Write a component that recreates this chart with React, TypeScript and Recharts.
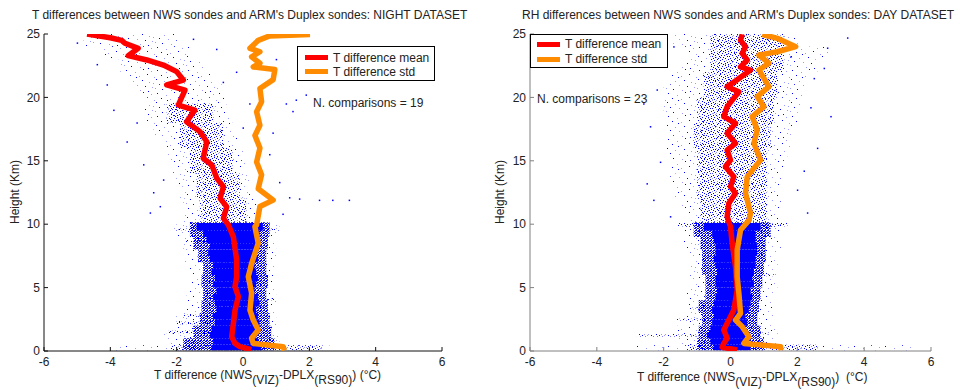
import React from 'react';
import { ComposedChart, XAxis, YAxis, Scatter, ReferenceArea } from 'recharts';

// ---------- data ----------
const X_TICKS = [-6, -4, -2, 0, 2, 4, 6];
const Y_TICKS = [0, 5, 10, 15, 20, 25];

// [x (°C), height (km)]
const LEFT_MEAN = [
  [-4.7, 25], [-4.0, 24.7], [-3.66, 24.5], [-3.56, 24.27], [-3.16, 23.87], [-3.46, 23.29], [-2.9, 22.95],
  [-2.4, 22.55], [-2.0, 22.03], [-1.8, 21.37], [-2.3, 20.98], [-1.75, 20.58], [-1.95, 19.4], [-1.45, 19.0],
  [-1.7, 18.08], [-1.3, 17.3], [-1.09, 16.5], [-1.2, 15.2], [-0.94, 14.67], [-0.79, 13.62], [-0.59, 12.96],
  [-0.69, 12.04], [-0.49, 11.38], [-0.59, 10.46], [-0.44, 9.94], [-0.29, 9.0], [-0.19, 7.18], [-0.19, 5.86],
  [-0.24, 5.07], [-0.14, 4.28], [-0.24, 3.23], [-0.29, 2.18], [-0.34, 1.13], [-0.24, 0.6], [-0.09, 0.34], [0.25, 0.1],
];
const LEFT_STD = [
  [2.02, 24.97], [0.8, 24.85], [0.46, 24.5], [0.21, 23.87], [0.51, 23.6], [0.26, 23.2], [0.51, 22.7], [0.31, 22.4],
  [0.96, 22.2], [0.91, 21.4], [0.51, 20.7], [0.56, 19.66], [0.41, 18.87], [0.51, 17.8], [0.36, 17.0], [0.51, 16.0],
  [0.41, 14.9], [0.56, 13.9], [0.46, 12.8], [0.91, 11.9], [0.51, 11.4], [0.41, 9.94], [0.36, 9.8], [0.46, 8.5],
  [0.26, 6.9], [0.16, 5.86], [0.26, 4.55], [0.21, 3.23], [0.31, 2.44], [0.46, 1.66], [0.26, 1.0], [0.31, 0.6],
  [1.21, 0.34], [1.25, 0.05],
];
const RIGHT_MEAN = [
  [0.35, 24.97], [0.3, 24.5], [0.45, 24.0], [0.35, 23.47], [0.5, 22.95], [0.3, 22.4], [0.6, 22.16], [0.2, 21.4],
  [-0.1, 20.84], [0.25, 20.45], [-0.1, 19.27], [-0.2, 18.48], [0.15, 17.96], [-0.1, 17.17], [0.15, 16.38],
  [-0.1, 15.85], [0.0, 15.06], [-0.15, 14.53], [0.1, 13.75], [0.0, 12.96], [0.15, 12.44], [-0.05, 11.65],
  [-0.1, 10.6], [0.0, 9.8], [0.05, 8.5], [0.15, 6.65], [0.2, 4.8], [0.1, 3.23], [-0.05, 2.44], [-0.2, 1.66],
  [-0.1, 1.0], [-0.2, 0.6], [-0.25, 0.3], [0.2, 0.08],
];
const RIGHT_STD = [
  [0.95, 24.97], [1.4, 24.66], [1.95, 24.0], [1.4, 23.6], [0.85, 23.34], [1.15, 22.7], [0.85, 22.16], [1.15, 20.84],
  [0.8, 20.06], [1.0, 19.27], [0.65, 18.48], [0.8, 17.43], [0.7, 16.38], [0.9, 15.06], [0.5, 13.75], [0.45, 12.44],
  [0.6, 10.86], [0.55, 10.3], [0.3, 9.54], [0.2, 7.97], [0.2, 5.86], [0.25, 4.55], [0.3, 2.97], [0.15, 2.44],
  [0.35, 1.92], [0.55, 1.13], [0.4, 0.6], [1.5, 0.34], [1.5, 0.06],
];

// scatter cloud envelopes: [hLow, hHigh, xLow, xHigh]
const LEFT_CORE = [
  [0.05, 0.5, -0.95, 0.55], [0.5, 1.0, -0.9, 0.45], [1.0, 1.5, -1.0, 0.4], [1.5, 2.0, -0.95, 0.45],
  [2.0, 2.5, -0.85, 0.5], [2.5, 3.0, -0.9, 0.45], [3.0, 3.5, -0.8, 0.4], [3.5, 4.0, -0.85, 0.5],
  [4.0, 4.5, -0.9, 0.45], [4.5, 5.0, -0.8, 0.35], [5.0, 5.5, -0.9, 0.4], [5.5, 6.0, -0.85, 0.45],
  [6.0, 6.5, -0.95, 0.4], [6.5, 7.0, -0.9, 0.35], [7.0, 7.5, -1.0, 0.45], [7.5, 8.0, -1.05, 0.4],
  [8.0, 8.5, -1.0, 0.5], [8.5, 9.0, -1.1, 0.45], [9.0, 9.5, -1.2, 0.5], [9.5, 10.1, -1.4, 0.6],
];
const LEFT_DENSE = [
  [0.05, 1, -1.8, 0.95], [1, 2, -1.5, 0.85], [2, 3, -1.3, 0.8], [3, 4, -1.25, 0.75], [4, 5, -1.2, 0.7],
  [5, 6, -1.25, 0.75], [6, 7, -1.2, 0.7], [7, 8, -1.35, 0.7], [8, 9, -1.5, 0.75], [9, 10.15, -1.6, 0.8],
];
const LEFT_MEDIUM = [
  [0.05, 0.45, -2.2, 2.4], [1.4, 1.6, -2.3, -0.8], [2.1, 2.35, -2.0, -0.8], [2.7, 2.85, -1.8, -0.8],
  [4.0, 4.15, 0.6, 0.95], [5.9, 6.05, 0.5, 0.8], [8.6, 8.75, -1.8, -1.0], [9.5, 9.65, -2.1, -1.2],
  [9.5, 9.65, 0.6, 1.1], [10.2, 12, -1.3, 0.1], [12, 14, -1.4, -0.1], [14, 16, -1.6, -0.3],
  [16, 18, -1.9, -0.6], [18, 19.5, -2.3, -0.9],
];
const LEFT_SPARSE = [
  [0.05, 0.45, -3.9, 2.6], [0.45, 1.5, -2.4, 1.1], [1.5, 3, -2.0, 1.0], [3, 5, -1.7, 1.0], [5, 7, -1.6, 0.95],
  [7, 9, -1.8, 1.0], [9, 10, -2.0, 1.1], [10, 11, -1.8, 0.5], [11, 12, -1.8, 0.4],
  [12, 13, -1.9, 0.3], [13, 14, -2.0, 0.2], [14, 15, -2.1, 0.1], [15, 16, -2.3, 0.0], [16, 17, -2.4, -0.1],
  [17, 18, -2.7, -0.3], [18, 19, -2.9, -0.4], [19, 20, -3.0, -0.5], [20, 21, -3.2, -0.6], [21, 22, -3.4, -0.9],
  [22, 23, -3.7, -1.2], [23, 24, -4.2, -1.6], [24, 25, -4.8, -2.0],
];
const LEFT_OUTLIERS = [
  [1.4, 12.1], [1.7, 12.0], [2.3, 11.9], [3.2, 11.9], [1.3, 19.5], [1.6, 19.8], [1.9, 20.2], [1.5, 18.9],
  [-3.5, 16.5], [-3.0, 14.7], [-2.7, 12.5], [-2.4, 13.5], [-4.1, 21.0], [-3.9, 19.0], [-5.0, 24.3],
  [-4.4, 22.6], [0.8, 15.5], [0.9, 17.2], [1.1, 13.3], [-0.2, 22.0], [-0.6, 21.2], [0.2, 19.5], [2.7, 11.9],
  [1.0, 23.0], [-0.8, 23.8], [-1.5, 24.6], [0.0, 17.6], [-3.2, 18.0], [-2.8, 10.9], [-2.5, 11.4], [1.2, 10.8],
];

const RIGHT_CORE = [
  [0.05, 0.5, -0.5, 0.6], [0.5, 1.0, -0.6, 0.5], [1.0, 1.5, -0.7, 0.45], [1.5, 2.0, -0.6, 0.4],
  [2.0, 2.5, -0.55, 0.5], [2.5, 3.0, -0.5, 0.45], [3.0, 3.5, -0.55, 0.55], [3.5, 4.0, -0.5, 0.6],
  [4.0, 4.5, -0.45, 0.65], [4.5, 5.0, -0.4, 0.6], [5.0, 5.5, -0.45, 0.7], [5.5, 6.0, -0.45, 0.65],
  [6.0, 6.5, -0.4, 0.7], [6.5, 7.0, -0.45, 0.75], [7.0, 7.5, -0.5, 0.75], [7.5, 8.0, -0.45, 0.8],
  [8.0, 8.5, -0.45, 0.8], [8.5, 9.0, -0.5, 0.75], [9.0, 9.5, -0.55, 0.75], [9.5, 10.1, -0.8, 0.9],
];
const RIGHT_DENSE = [
  [0.05, 1, -1.0, 1.0], [1, 2, -0.95, 0.9], [2, 3, -0.85, 0.8], [3, 4, -0.95, 0.85], [4, 5, -0.75, 0.9],
  [5, 6, -0.75, 0.95], [6, 7, -0.85, 1.0], [7, 8, -0.85, 1.05], [8, 9, -0.9, 1.05], [9, 10.15, -1.1, 1.2],
];
const RIGHT_MEDIUM = [
  [0.05, 0.5, -1.3, 2.6], [1.15, 1.35, -2.8, -0.7], [1.3, 1.45, 0.8, 1.2], [2.4, 2.55, -1.6, -0.6],
  [3.3, 3.45, -1.3, -0.6], [5.9, 6.05, 0.9, 1.3], [8.3, 8.45, -1.0, -0.6], [9.8, 10.1, -1.6, 1.7],
  [10.2, 12, -0.9, 1.1], [12, 14, -1.0, 1.1], [14, 16, -1.0, 1.1], [16, 18, -1.1, 1.2], [18, 20, -1.0, 1.3],
  [20, 22, -0.8, 1.4], [22, 25, -0.6, 1.6],
];
const RIGHT_SPARSE = [
  [0.05, 0.45, -2.8, 5.4], [0.45, 2, -1.6, 1.4], [2, 5, -1.3, 1.3], [5, 8, -1.2, 1.4], [8, 10, -1.4, 1.5],
  [10, 11, -1.3, 1.5], [11, 12, -1.5, 1.5], [12, 13, -1.7, 1.5],
  [13, 14, -1.8, 1.5], [14, 15, -1.8, 1.6], [15, 16, -1.9, 1.7], [16, 17, -1.9, 1.8], [17, 18, -1.9, 1.9],
  [18, 19, -2.0, 2.0], [19, 20, -2.0, 2.1], [20, 21, -2.0, 2.2], [21, 22, -1.8, 2.3], [22, 23, -1.5, 2.6],
  [23, 24, -1.3, 2.9], [24, 25, -1.7, 2.0],
];
const RIGHT_OUTLIERS = [
  [2.9, 23.9], [2.8, 22.3], [2.5, 21.5], [3.5, 24.7], [2.4, 19.2], [2.6, 16.0], [2.2, 14.2], [2.0, 12.7],
  [-2.1, 14.9], [-2.4, 17.7], [-2.2, 20.6], [-2.6, 19.5], [-1.7, 24.0], [-1.9, 22.7], [3.0, 18.5],
  [-2.3, 11.9], [2.3, 10.9], [-1.8, 10.6], [1.8, 23.2], [-2.5, 13.2], [1.1, 24.6],
];

const toPts = (a: number[][]) => a.map(([x, h]) => ({ x, h }));

// ---------- styles ----------
const FONT = '"Liberation Sans", Arial, Helvetica, sans-serif';
const BLUE = '#0000ff';
const LIGHTBLUE = '#9a9aff';
const RED = '#ff0000';
const ORANGE = '#ff8c00';

const SPARSE_DOTS = [
  [2, 1], [11, 3], [19, 0], [27, 2], [6, 6], [15, 7], [23, 5], [30, 8], [1, 10], [9, 12], [18, 11],
  [25, 13], [4, 15], [13, 16], [21, 17], [28, 18], [7, 20], [16, 21], [24, 22], [0, 19], [12, 8], [29, 14],
];
const MED_ROWS = [
  [1, 7, 13], [4, 10, 16], [0, 8, 12], [3, 6, 14], [9, 11, 1], [5, 15, 2], [0, 7, 12],
  [4, 10, 16], [2, 8, 13], [6, 11, 15], [1, 9, 14], [3, 7, 12], [5, 10, 16],
];
const DENSE_DOTS = [[0, 0], [2, 0], [3, 0], [5, 0], [1, 1], [2, 1], [4, 1], [0, 2], [3, 2], [5, 2], [1, 3], [2, 3], [4, 3], [5, 3], [0, 4], [3, 4]];

function Patterns({ p }: { p: string }) {
  return (
    <defs>
      <pattern id={`${p}-sparse`} width={31} height={23} patternUnits="userSpaceOnUse">
        {SPARSE_DOTS.map(([x, y], i) => (
          <rect key={i} x={x} y={y} width={1} height={1} fill={i % 2 === 0 ? BLUE : LIGHTBLUE} />
        ))}
      </pattern>
      <pattern id={`${p}-medium`} width={17} height={13} patternUnits="userSpaceOnUse">
        {MED_ROWS.map((row, y) =>
          row.map((x, j) => (
            <rect key={`${y}-${j}`} x={x} y={y} width={1} height={1} fill={(x + y) % 4 === 0 ? LIGHTBLUE : BLUE} />
          ))
        )}
      </pattern>
      <pattern id={`${p}-dense`} width={6} height={5} patternUnits="userSpaceOnUse">
        {DENSE_DOTS.map(([x, y], i) => (
          <rect key={i} x={x} y={y} width={1} height={1} fill={BLUE} />
        ))}
      </pattern>
    </defs>
  );
}

const bandAreas = (bands: number[][], fill: string, key: string) =>
  bands.map((b, i) => (
    <ReferenceArea
      key={`${key}-${i}`}
      x1={b[2]}
      x2={b[3]}
      y1={b[0]}
      y2={b[1]}
      fill={fill}
      fillOpacity={1}
      stroke="none"
      strokeWidth={0}
    />
  ));

const emptyShape = () => <g />;
const dotShape = (props: any) => (
  <rect x={props.cx - 0.5} y={props.cy - 0.5} width={1.5} height={1.5} fill={BLUE} />
);

type PanelProps = {
  p: string;
  mean: number[][];
  std: number[][];
  core: number[][];
  dense: number[][];
  medium: number[][];
  sparse: number[][];
  outliers: number[][];
  axisColor: string;
  leftW: number;
  rightM: number;
};

function Panel(props: PanelProps) {
  const { p, mean, std, core, dense, medium, sparse, outliers, axisColor, leftW, rightM } = props;
  const tickStyle = { fill: '#222', fontSize: 12, fontFamily: FONT };
  const line = { stroke: axisColor, strokeWidth: 1 };
  return (
    <ComposedChart width={480} height={390} margin={{ top: 34, right: rightM, bottom: 0, left: 0 }}>
      <Patterns p={p} />
      <XAxis
        xAxisId={0}
        type="number"
        dataKey="x"
        domain={[-6, 6]}
        ticks={X_TICKS}
        interval={0}
        allowDataOverflow
        height={39}
        tickSize={-4}
        tickMargin={10}
        tick={tickStyle}
        axisLine={line}
        tickLine={line}
      />
      <XAxis
        xAxisId="top"
        orientation="top"
        type="number"
        domain={[-6, 6]}
        ticks={X_TICKS}
        interval={0}
        allowDataOverflow
        height={0}
        tickSize={-4}
        tick={false}
        axisLine={line}
        tickLine={line}
      />
      <YAxis
        yAxisId={0}
        type="number"
        dataKey="h"
        domain={[0, 25]}
        ticks={Y_TICKS}
        interval={0}
        allowDataOverflow
        width={leftW}
        tickSize={-4}
        tickMargin={8}
        tick={tickStyle}
        axisLine={line}
        tickLine={line}
      />
      <YAxis
        yAxisId="right"
        orientation="right"
        type="number"
        domain={[0, 25]}
        ticks={Y_TICKS}
        interval={0}
        allowDataOverflow
        width={0}
        tickSize={-4}
        tick={false}
        axisLine={line}
        tickLine={line}
      />
      {bandAreas(sparse, `url(#${p}-sparse)`, 'sp')}
      {bandAreas(medium, `url(#${p}-medium)`, 'md')}
      {bandAreas(dense, `url(#${p}-dense)`, 'dn')}
      {bandAreas(core, BLUE, 'co')}
      <Scatter data={toPts(outliers)} shape={dotShape} isAnimationActive={false} />
      <Scatter
        data={toPts(mean)}
        line={{ stroke: RED, strokeWidth: 5.5, strokeLinejoin: 'round' }}
        shape={emptyShape}
        isAnimationActive={false}
      />
      <Scatter
        data={toPts(std)}
        line={{ stroke: ORANGE, strokeWidth: 5.5, strokeLinejoin: 'round' }}
        shape={emptyShape}
        isAnimationActive={false}
      />
    </ComposedChart>
  );
}

const txt: React.CSSProperties = {
  position: 'absolute',
  fontFamily: FONT,
  fontSize: 12,
  color: '#222',
  whiteSpace: 'nowrap',
  lineHeight: '14px',
};

function LegendBox({ left, top, w, h, sx, sy }: { left: number; top: number; w: number; h: number; sx: number; sy: number[] }) {
  return (
    <div style={{ position: 'absolute', left, top, width: w, height: h, border: '1px solid #000', background: '#fff', boxSizing: 'border-box' }}>
      {[{ c: RED, t: 'T difference mean' }, { c: ORANGE, t: 'T difference std' }].map((it, i) => (
        <React.Fragment key={i}>
          <div style={{ position: 'absolute', left: sx, top: sy[i] - 2.5, width: 23, height: 5, background: it.c }} />
          <div style={{ ...txt, left: sx + 28, top: sy[i] - 7 }}>{it.t}</div>
        </React.Fragment>
      ))}
    </div>
  );
}

function XLabel({ left, top, gap }: { left: number; top: number; gap: string }) {
  const sub: React.CSSProperties = { position: 'relative', top: 5, lineHeight: '10px' };
  return (
    <div style={{ ...txt, left, top, lineHeight: '10px' }}>
      T difference (NWS<span style={sub}>(VIZ)</span>-DPLX<span style={sub}>(RS90)</span>){gap}(°C)
    </div>
  );
}

export default function App() {
  return (
    <div style={{ position: 'absolute', left: 0, top: 0, width: 960, height: 390, background: '#fff', overflow: 'hidden' }}>
      <div style={{ position: 'absolute', left: 0, top: 0 }}>
        <Panel p="L" mean={LEFT_MEAN} std={LEFT_STD} core={LEFT_CORE} dense={LEFT_DENSE} medium={LEFT_MEDIUM}
          sparse={LEFT_SPARSE} outliers={LEFT_OUTLIERS} axisColor="#111" leftW={44} rightM={38} />
      </div>
      <div style={{ position: 'absolute', left: 480, top: 0 }}>
        <Panel p="R" mean={RIGHT_MEAN} std={RIGHT_STD} core={RIGHT_CORE} dense={RIGHT_DENSE} medium={RIGHT_MEDIUM}
          sparse={RIGHT_SPARSE} outliers={RIGHT_OUTLIERS} axisColor="#808080" leftW={50} rightM={29} />
      </div>

      <div style={{ ...txt, left: 32, top: 8 }}>T differences between NWS sondes and ARM's Duplex sondes: NIGHT DATASET</div>
      <div style={{ ...txt, left: 522, top: 8 }}>RH differences between NWS sondes and ARM's Duplex sondes: DAY DATASET</div>

      <div style={{ ...txt, left: 15, top: 192, transform: 'translate(-50%, -50%) rotate(-90deg)' }}>Height (Km)</div>
      <div style={{ ...txt, left: 500, top: 192, transform: 'translate(-50%, -50%) rotate(-90deg)' }}>Height (Km)</div>

      <XLabel left={154} top={370} gap=" " />
      <XLabel left={637} top={372} gap={'\u00a0\u00a0'} />

      <LegendBox left={297} top={46} w={138} h={35} sx={7} sy={[10.5, 24.5]} />
      <LegendBox left={530} top={34} w={138} h={34} sx={6} sy={[9, 24]} />

      <div style={{ ...txt, left: 313, top: 96 }}>N. comparisons = 19</div>
      <div style={{ ...txt, left: 537, top: 92 }}>N. comparisons = 23</div>
    </div>
  );
}
